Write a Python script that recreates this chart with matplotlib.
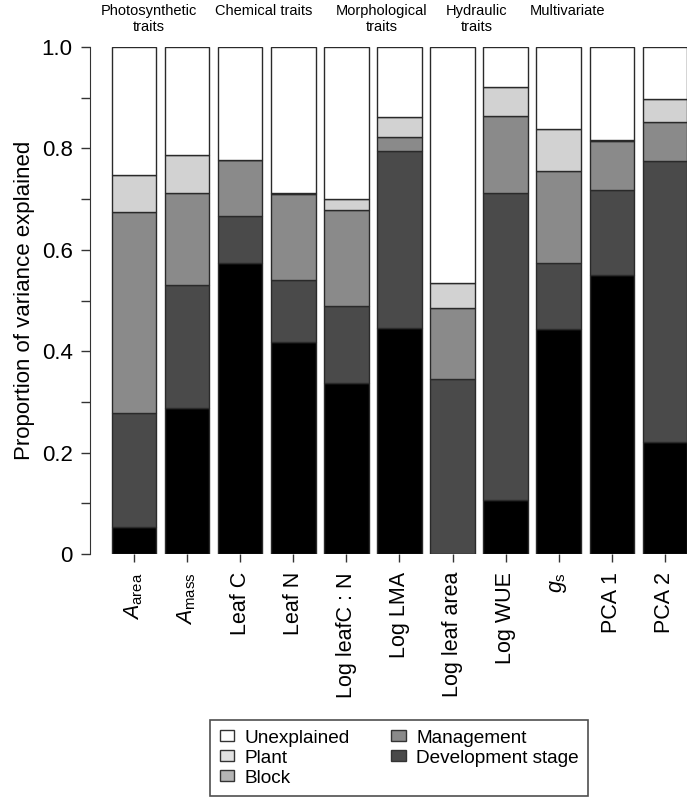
import matplotlib
matplotlib.use("Agg")
import matplotlib.pyplot as plt
from matplotlib.patches import Patch
from matplotlib.transforms import blended_transform_factory
import numpy as np

plt.rcParams['font.family'] = ['Liberation Sans', 'DejaVu Sans']
plt.rcParams['mathtext.fontset'] = 'custom'
plt.rcParams['mathtext.rm'] = 'Liberation Sans'
plt.rcParams['mathtext.it'] = 'Liberation Sans:italic'

# trait labels along x
traits = [r"$\mathit{A}_{\mathrm{area}}$", r"$\mathit{A}_{\mathrm{mass}}$", "Leaf C", "Leaf N",
          "Log leafC : N", "Log LMA", "Log leaf area", "Log WUE",
          r"$\mathit{g}_{\mathrm{s}}$", "PCA 1", "PCA 2"]

# variance components (bottom to top)
dev_stage   = [0.053, 0.287, 0.573, 0.419, 0.338, 0.445, 0.000, 0.107, 0.443, 0.550, 0.220]
management  = [0.226, 0.244, 0.093, 0.121, 0.152, 0.350, 0.346, 0.605, 0.131, 0.168, 0.556]
block       = [0.396, 0.181, 0.111, 0.170, 0.189, 0.028, 0.140, 0.151, 0.181, 0.097, 0.076]
plant       = [0.073, 0.074, 0.000, 0.003, 0.022, 0.038, 0.049, 0.059, 0.083, 0.002, 0.045]
unexplained = [0.252, 0.214, 0.223, 0.287, 0.299, 0.139, 0.465, 0.078, 0.162, 0.183, 0.103]

groups = ["Photosynthetic\ntraits", "Chemical traits", "Morphological\ntraits",
          "Hydraulic\ntraits", "Multivariate"]
group_x = [0.28, 2.45, 4.67, 6.46, 8.16]

fig = plt.figure(figsize=(6.91, 7.99), dpi=100)
ax = fig.add_axes([90 / 691, (799 - 554) / 799, (687 - 90) / 691, 507 / 799])

x = np.arange(len(traits))
series = [dev_stage, management, block, plant, unexplained]
colors = ["#000000", "#4a4a4a", "#8a8a8a", "#d2d2d2", "#ffffff"]
bottom = np.zeros(len(traits))
for vals, c in zip(series, colors):
    ax.bar(x, vals, bottom=bottom, width=0.84, color=c, edgecolor="#2a2a2a", linewidth=1.0)
    bottom += np.array(vals)

ax.set_xlim(-0.827, 10.416)
ax.set_ylim(0, 1)

for s in ["top", "right", "bottom"]:
    ax.spines[s].set_visible(False)
ax.spines["left"].set_bounds(0, 1)
ax.spines["left"].set_color("#333333")

ax.set_yticks([0, 0.2, 0.4, 0.6, 0.8, 1.0])
ax.set_yticklabels(["0", "0.2", "0.4", "0.6", "0.8", "1.0"])
ax.set_yticks([0.1, 0.3, 0.5, 0.7, 0.9], minor=True)
ax.tick_params(axis="y", which="both", length=6.5, width=1, color="#333333",
               labelsize=16, pad=6)
ax.set_ylabel("Proportion of variance explained", fontsize=16, labelpad=5)

ax.set_xticks(x)
ax.set_xticklabels(traits, rotation=90, fontsize=15.5)
ax.tick_params(axis="x", length=6, width=1, color="#333333", pad=7)

trans = blended_transform_factory(ax.transData, fig.transFigure)
for g, gx in zip(groups, group_x):
    ax.text(gx, 1 - 4 / 799, g, transform=trans, ha="center", va="top",
            fontsize=10.5, linespacing=1.15)

legend_colors = ["#ffffff", "#e2e2e2", "#b4b4b4", "#8a8a8a", "#4a4a4a"]
legend_names = ["Unexplained", "Plant", "Block", "Management", "Development stage"]
handles = [Patch(facecolor=c, edgecolor="#333333", linewidth=1) for c in legend_colors]
leg = fig.legend(handles, legend_names, ncol=2, loc="upper left",
                 bbox_to_anchor=(210 / 691, 1 - 720 / 799), fontsize=13.7,
                 frameon=True, fancybox=False, edgecolor="#222222",
                 handlelength=0.75, handleheight=0.5, handletextpad=0.55,
                 labelspacing=0.16, columnspacing=2.2, borderpad=0.5,
                 borderaxespad=0)
leg.get_frame().set_linewidth(1.2)

fig.savefig("out.png", dpi=100)
